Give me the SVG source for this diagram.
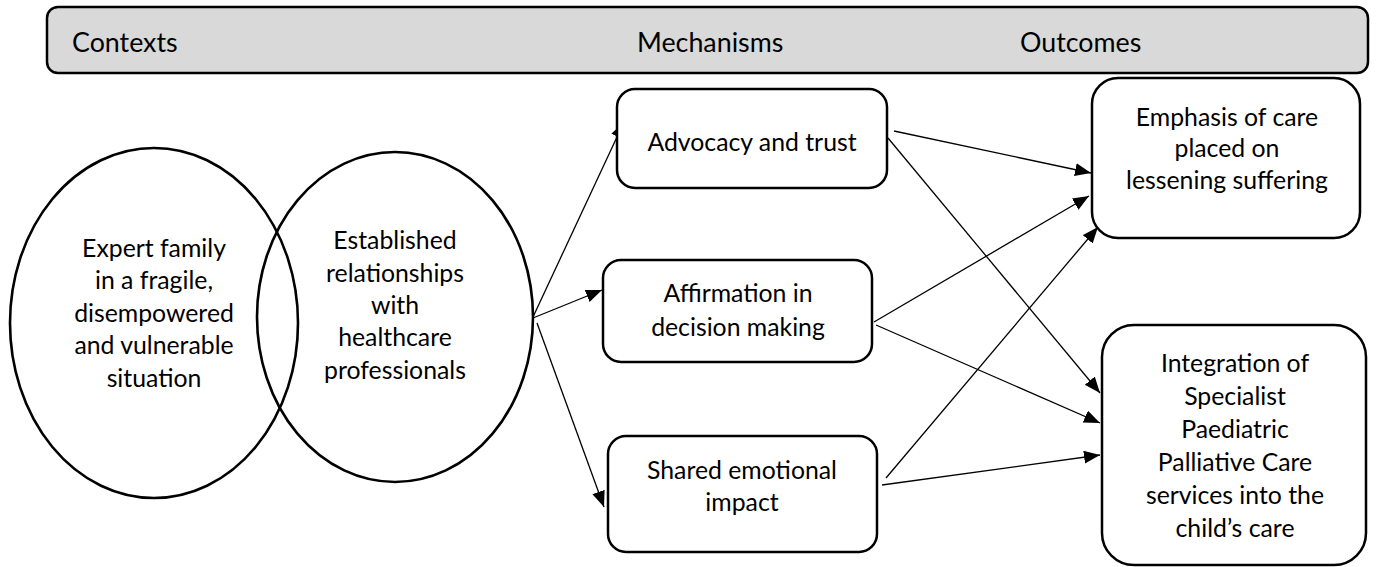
<svg xmlns="http://www.w3.org/2000/svg" width="1376" height="567" viewBox="0 0 1376 567">
<style>
  .box { fill: #ffffff; stroke: #000000; stroke-width: 2.5; }
  .bar { fill: #d9d9d9; stroke: #000000; stroke-width: 2.5; }
  .ell { fill: none; stroke: #000000; stroke-width: 2.6; }
  .t { font-family: Lato, "Liberation Sans", sans-serif; font-size: 24.8px; fill: #000000; }
  .h { font-family: Lato, "Liberation Sans", sans-serif; font-size: 26.8px; fill: #000000; }
  .c { text-anchor: middle; }
  .conn { stroke: #000000; stroke-width: 1.3; fill: none; marker-end: url(#arrow); }
</style>
<defs>
  <marker id="arrow" markerUnits="userSpaceOnUse" markerWidth="17" markerHeight="14" refX="16" refY="6.5" orient="auto">
    <path d="M0,0 L16,6.5 L0,13 z" fill="#000000"/>
  </marker>
</defs>
<rect width="1376" height="567" fill="#ffffff"/>
<g id="header">
  <rect class="bar" x="47" y="7" width="1321" height="66" rx="11"/>
  <text class="h" x="72" y="52">Contexts</text>
  <text class="h" x="637" y="52">Mechanisms</text>
  <text class="h" x="1020" y="52">Outcomes</text>
</g>
<g id="connectors">
  <path class="conn" d="M533,317 L624,122"/>
  <path class="conn" d="M533,318 L602,290"/>
  <path class="conn" d="M537,323 L604,507"/>
  <path class="conn" d="M894,131 L1091,173"/>
  <path class="conn" d="M888,138 L1100,393"/>
  <path class="conn" d="M874,322 L1089,196"/>
  <path class="conn" d="M876,325 L1100,423"/>
  <path class="conn" d="M886,478 L1098,227"/>
  <path class="conn" d="M882,485 L1100,455"/>
</g>
<g id="context-family">
  <ellipse class="ell" cx="154" cy="323" rx="144" ry="175"/>
  <text class="t c" x="154" y="257">Expert family</text>
  <text class="t c" x="154" y="289">in a fragile,</text>
  <text class="t c" x="154" y="322">disempowered</text>
  <text class="t c" x="154" y="354">and vulnerable</text>
  <text class="t c" x="154" y="387">situation</text>
</g>
<g id="context-relationships">
  <ellipse class="ell" cx="395" cy="317" rx="138" ry="165"/>
  <text class="t c" x="395" y="249">Established</text>
  <text class="t c" x="395" y="282">relationships</text>
  <text class="t c" x="395" y="314">with</text>
  <text class="t c" x="395" y="346">healthcare</text>
  <text class="t c" x="395" y="379">professionals</text>
</g>
<g id="mech-advocacy">
  <rect class="box" x="617" y="89" width="270" height="99" rx="18"/>
  <text class="t c" x="752" y="151">Advocacy and trust</text>
</g>
<g id="mech-affirmation">
  <rect class="box" x="603" y="260" width="269" height="102" rx="18"/>
  <text class="t c" x="738" y="302">Affirmation in</text>
  <text class="t c" x="738" y="336">decision making</text>
</g>
<g id="mech-shared">
  <rect class="box" x="608" y="436" width="269" height="116" rx="18"/>
  <text class="t c" x="742" y="479">Shared emotional</text>
  <text class="t c" x="742" y="511">impact</text>
</g>
<g id="outcome-emphasis">
  <rect class="box" x="1092" y="78" width="268" height="160" rx="26"/>
  <text class="t c" x="1227" y="126">Emphasis of care</text>
  <text class="t c" x="1227" y="157">placed on</text>
  <text class="t c" x="1227" y="189">lessening suffering</text>
</g>
<g id="outcome-integration">
  <rect class="box" x="1102" y="325" width="264" height="240" rx="32"/>
  <text class="t c" x="1235" y="372">Integration of</text>
  <text class="t c" x="1235" y="405">Specialist</text>
  <text class="t c" x="1235" y="438">Paediatric</text>
  <text class="t c" x="1235" y="471">Palliative Care</text>
  <text class="t c" x="1235" y="504">services into the</text>
  <text class="t c" x="1235" y="537">child’s care</text>
</g>
</svg>
